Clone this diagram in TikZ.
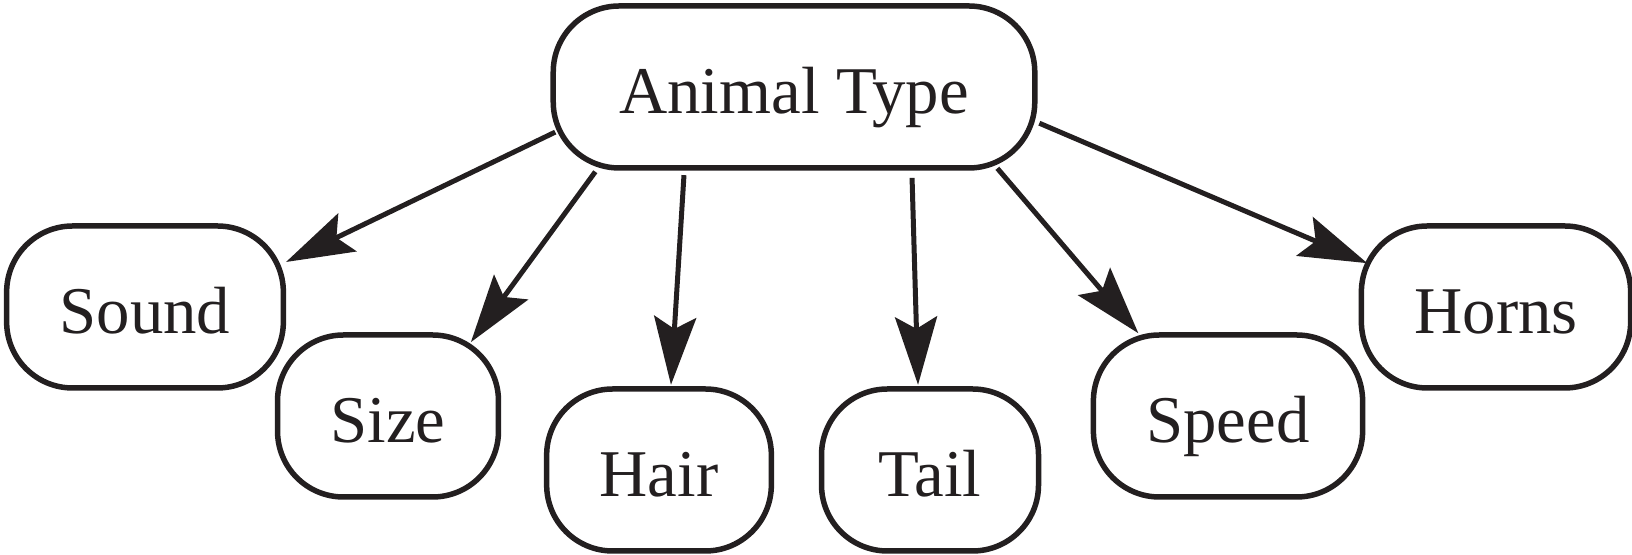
\documentclass[tikz,border=0pt]{standalone}
\usepackage{fontspec}
\setmainfont{Liberation Serif}
\usetikzlibrary{arrows.meta}
\definecolor{ink}{HTML}{231F20}

\begin{document}
\begin{tikzpicture}
		[n/.style= {font=\fontsize{19}{22}\selectfont,text=ink,draw=ink,line width=0.055cm,
			rectangle,rounded corners=0.66cm,minimum height=1.62cm,inner xsep=0.53cm,
			text height=0.62cm,text depth=0.08cm,outer sep=0.05cm},
		a/.style= {-{Stealth[length=0.68cm,width=0.42cm,inset=0.12cm]},draw=ink,line width=0.05cm}]

		\useasboundingbox (0,0) rectangle (16.32,5.55);

		\node[n,inner xsep=0.66cm] (animal) at ( 7.94,4.68) {Animal Type};

		\node[n] (sound) at ( 1.45,2.48) {Sound};
		\node[n] (size)  at ( 3.88,1.39) {Size};
		\node[n] (hair)  at ( 6.59,0.85) {Hair};
		\node[n,minimum width=2.17cm] (tail)  at ( 9.30,0.85) {Tail};
		\node[n] (speed) at (12.28,1.39) {Speed};
		\node[n] (horns) at (14.96,2.48) {Horns};

		\draw[a] ([shift={(190.7:2.43)}]animal.center) -- ([shift={(17.7:1.48)}]sound.center);
		\draw[a] ([shift={(203.1:2.16)}]animal.center) -- ([shift={(41.7:1.11)}]size.center);
		\draw[a] ([shift={(218.7:1.41)}]animal.center) -- ([shift={(82.0:0.86)}]hair.center);
		\draw[a] ([shift={(322.4:1.49)}]animal.center) -- ([shift={(98.0:0.86)}]tail.center);
		\draw[a] ([shift={(338.2:2.19)}]animal.center) -- ([shift={(137.3:1.22)}]speed.center);
		\draw[a] ([shift={(351.6:2.48)}]animal.center) -- ([shift={(161.2:1.36)}]horns.center);

	\end{tikzpicture}
\end{document}
